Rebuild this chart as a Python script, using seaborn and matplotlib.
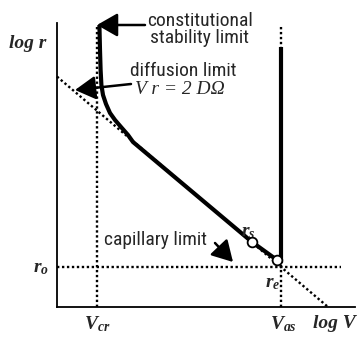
import matplotlib
matplotlib.use("Agg")
import matplotlib.pyplot as plt
import seaborn as sns
import pandas as pd

# Schematic growth map: log r versus log V (arbitrary log units)
V_CR = 1.0          # critical velocity (constitutional stability limit)
V_AS = 5.6          # absolute stability velocity
R_O = 1.0           # capillary limit radius
DIFF_C = 5.76       # intercept of the diffusion limit  V r = 2 D Omega
DIFF_K = 0.85       # slope magnitude of the diffusion limit

# Thick operating curve: dendrite tip radius vs growth velocity
curve_logV = [1.06, 1.075, 1.09, 1.11, 1.15, 1.225, 1.325, 1.45, 1.60, 1.775, 1.90, 4.875, 5.50]
curve_logr = [7.05, 6.425, 5.925, 5.55, 5.30, 5.075, 4.85, 4.675, 4.50, 4.30, 4.125, 1.625, 1.175]

# Marked points r_s and r_e on the curve
pt_logV = [4.875, 5.50]
pt_logr = [1.625, 1.175]

# Absolute-stability branch (vertical at V_as)
abs_logr = [1.1, 6.5]

# Diffusion-limit end points
diff_logV = [0.0, DIFF_C / DIFF_K]

sns.set_theme(style="white")
plt.rcParams["font.family"] = ["Roboto Condensed", "Archivo Narrow", "DejaVu Sans"]
plt.rcParams["mathtext.fontset"] = "custom"
plt.rcParams["mathtext.it"] = "Liberation Serif:italic:bold"
plt.rcParams["mathtext.rm"] = "Liberation Serif:bold"

fig = plt.figure(figsize=(3.58, 3.37), dpi=100)
ax = fig.add_axes([57 / 358, 30 / 337, 298 / 358, 284 / 337])
ax.set_xlim(0, 7.45)
ax.set_ylim(0, 7.1)
ax.set_xticks([])
ax.set_yticks([])
for side in ("top", "right"):
    ax.spines[side].set_visible(False)
for side in ("left", "bottom"):
    ax.spines[side].set_color("black")
    ax.spines[side].set_linewidth(1.3)

dot = dict(color="black", lw=1.7, linestyle=(0, (1, 1.1)), dash_capstyle="butt", clip_on=False)

# limit lines (dotted)
ax.plot([V_CR, V_CR], [0, 7.05], **dot)
ax.plot([V_AS, V_AS], [0, 7.05], **dot)
ax.plot([0, 7.1], [R_O, R_O], **dot)
ax.plot(diff_logV, [DIFF_C - DIFF_K * v for v in diff_logV], **dot)

# operating curve
df = pd.DataFrame({"logV": curve_logV, "logr": curve_logr})
sns.lineplot(data=df, x="logV", y="logr", sort=False, estimator=None, ax=ax,
             color="black", lw=3.0, solid_capstyle="butt", clip_on=False)
ax.plot([V_AS, V_AS], abs_logr, color="black", lw=3.0, solid_capstyle="butt")

# r_s and r_e markers
ax.plot(pt_logV, pt_logr, linestyle="none", marker="o", ms=7, mfc="white",
        mec="black", mew=1.3, zorder=5)

# annotations with arrows
arrow = dict(arrowstyle="-|>,head_length=1.05,head_width=0.6", color="black", lw=1.8,
             mutation_scale=12, shrinkA=0, shrinkB=0)
ax.annotate("", xy=(1.0, 7.05), xytext=(2.2, 7.05), arrowprops=arrow, annotation_clip=False)
ax.annotate("", xy=(0.45, 5.425), xytext=(1.85, 5.575), arrowprops=arrow, annotation_clip=False)
ax.annotate("", xy=(4.4, 1.125), xytext=(3.95, 1.6), arrowprops=arrow, annotation_clip=False)

ax.text(3.575, 6.93, "constitutional\nstability limit", ha="center", va="center",
        fontsize=14, linespacing=0.95)
ax.text(3.15, 5.9, "diffusion limit", ha="center", va="center", fontsize=14)
ax.text(3.075, 5.45, "V r = 2 DΩ", ha="center", va="center", fontsize=14,
        family="Liberation Serif", style="italic")
ax.text(2.45, 1.675, "capillary limit", ha="center", va="center", fontsize=14)

serif = dict(family="Liberation Serif", style="italic", weight="bold", fontsize=14)
ax.text(-0.725, 6.575, "log r", ha="center", va="center", clip_on=False, **serif)
ax.text(6.925, -0.4, "log V", ha="center", va="center", clip_on=False, **serif)
ax.text(-0.2, 0.98, r"$r_o$", ha="right", va="center", fontsize=14, clip_on=False)
ax.text(V_CR, -0.42, r"$V_{cr}$", ha="center", va="center", fontsize=14, clip_on=False)
ax.text(V_AS + 0.05, -0.42, r"$V_{as}$", ha="center", va="center", fontsize=14, clip_on=False)
ax.text(4.775, 1.88, r"$r_s$", ha="center", va="center", fontsize=14)
ax.text(5.4, 0.6, r"$r_e$", ha="center", va="center", fontsize=14)

fig.savefig("out.png", dpi=100)
